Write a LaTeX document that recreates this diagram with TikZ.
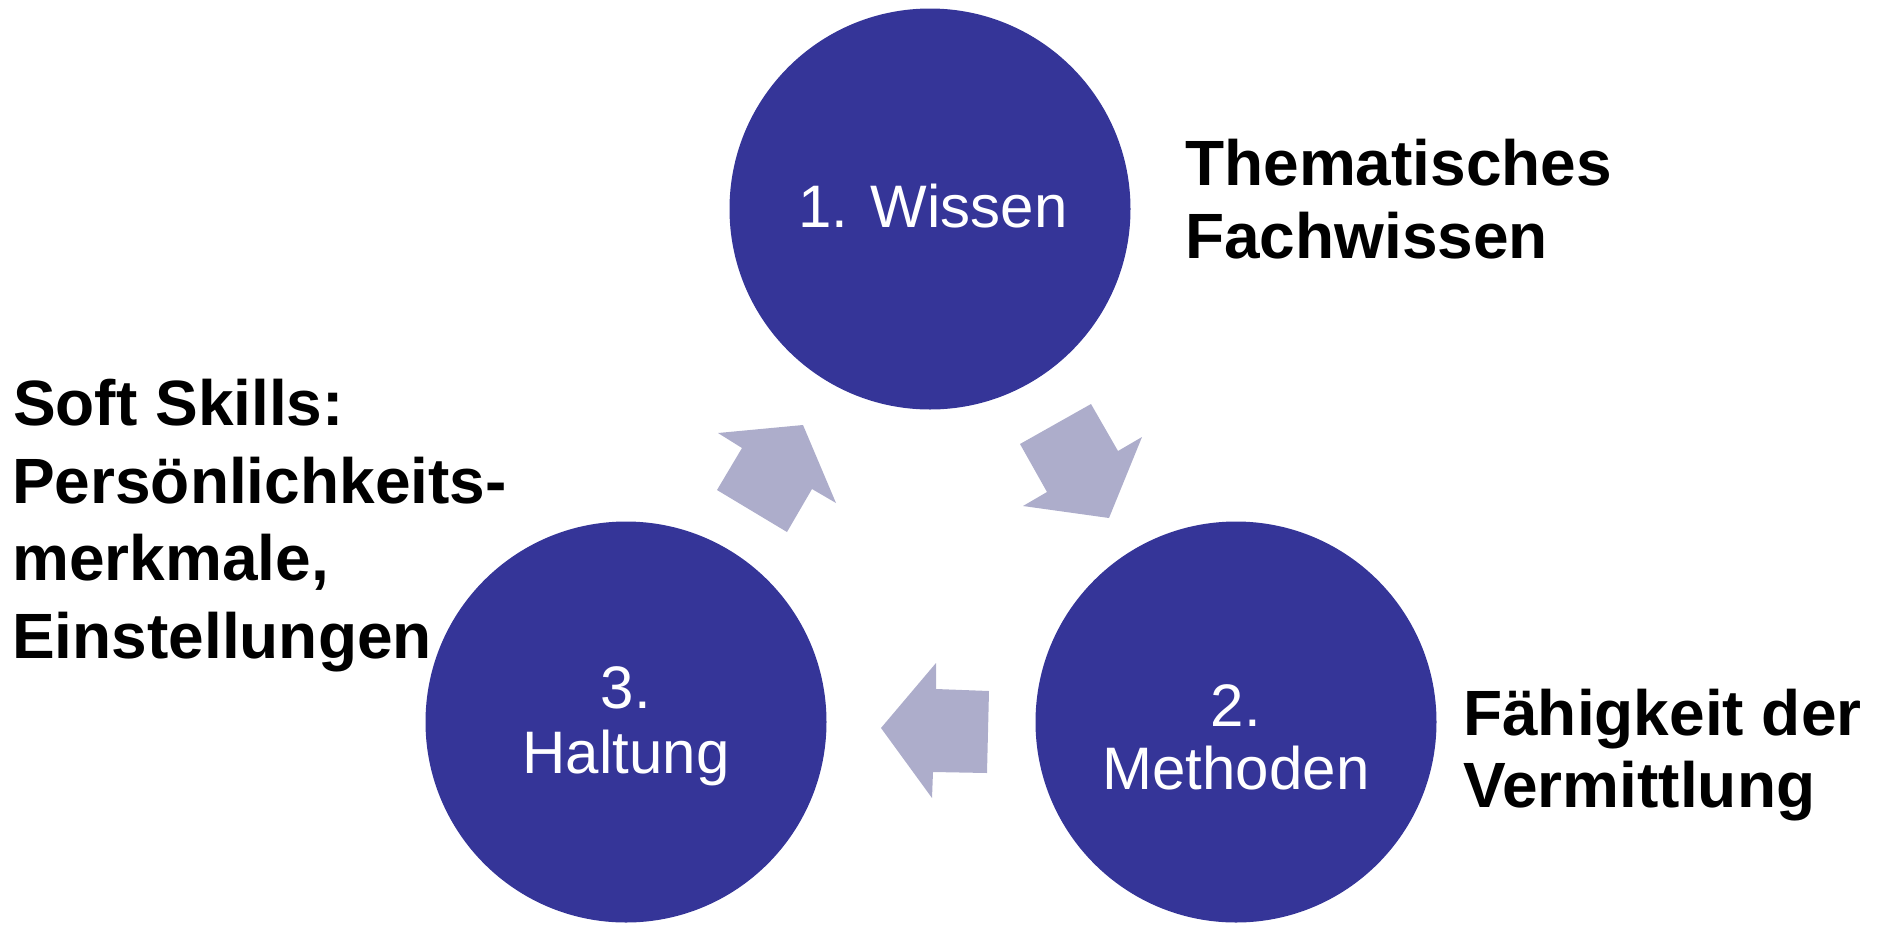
\documentclass[tikz,border=0pt]{standalone}
\usepackage{fontspec}
\setmainfont{Liberation Sans}
\definecolor{circ}{RGB}{53,53,152}
\definecolor{arr}{RGB}{173,173,203}
\begin{document}
\begin{tikzpicture}[x=1pt,y=-1pt,
  bubble/.style={circle,fill=circ,draw=none,minimum size=401pt,inner sep=0pt},
  blockarrow/.style={fill=arr,draw=none},
  lbl/.style={text=white,font=\fontsize{60}{64}\selectfont,inner sep=0pt,anchor=base},
  note/.style={text=black,font=\bfseries\fontsize{64}{75}\selectfont,inner sep=0pt,anchor=base west}]
\useasboundingbox (0,0) rectangle (1883,938);
% circles
\node[bubble] (w) at (930,209) {};
\node[bubble] (m) at (1236,722) {};
\node[bubble] (h) at (626,722) {};
% block arrows
\fill[blockarrow] (717,490) -- (742,448) -- (718,433) -- (803,425) -- (836,503) -- (812,489) -- (787,532) -- cycle;
\fill[blockarrow] (1020,444) -- (1091,404) -- (1118,451) -- (1142,437) -- (1109,518) -- (1023,506) -- (1047,492) -- cycle;
\fill[blockarrow] (881,728) -- (936,663) -- (936,689) -- (989,691) -- (987,773) -- (933,772) -- (932,798) -- cycle;
% circle labels
\node[lbl] (wl) at (933,227) {1. Wissen};
\node[lbl] (ml1) at (1236,726) {2.};
\node[lbl] (ml2) at (1236,789) {Methoden};
\node[lbl] (hl1) at (626,708) {3.};
\node[lbl] (hl2) at (626,773) {Haltung};
% notes
\node[note] (n1a) at (1185,185) {Thematisches};
\node[note] (n1b) at (1185,258) {Fachwissen};
\node[note] (n2a) at (1463,735) {Fähigkeit der};
\node[note] (n2b) at (1463,807) {Vermittlung};
\node[note] (n3a) at (13,425) {Soft Skills:};
\node[note] (n3b) at (12,503) {Persönlichkeits-};
\node[note] (n3c) at (12,580) {merkmale,};
\node[note] (n3d) at (12,658) {Einstellungen};
\end{tikzpicture}
\end{document}
